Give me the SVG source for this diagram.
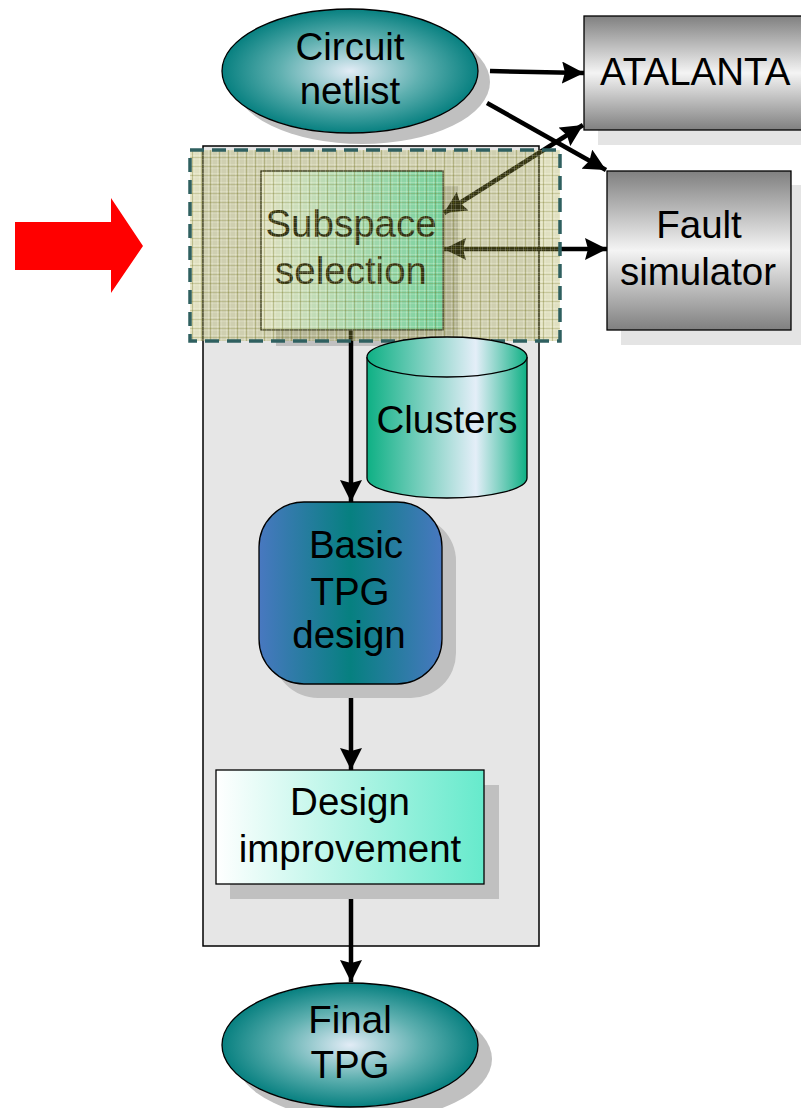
<svg xmlns="http://www.w3.org/2000/svg" width="801" height="1108" viewBox="0 0 801 1108">
  <defs>
    <radialGradient id="ovalFill" cx="0.5" cy="0.5" r="0.5">
      <stop offset="0" stop-color="#e2ecf6"/>
      <stop offset="0.55" stop-color="#5fb0b0"/>
      <stop offset="1" stop-color="#078080"/>
    </radialGradient>
    <linearGradient id="greyBox" x1="0" y1="0" x2="0" y2="1">
      <stop offset="0" stop-color="#808080"/>
      <stop offset="0.5" stop-color="#f4f4f4"/>
      <stop offset="1" stop-color="#808080"/>
    </linearGradient>
    <linearGradient id="cylFill" x1="0" y1="0" x2="1" y2="0">
      <stop offset="0" stop-color="#0eb084"/>
      <stop offset="0.68" stop-color="#e4eef8"/>
      <stop offset="1" stop-color="#0eb084"/>
    </linearGradient>
    <linearGradient id="tpgFill" x1="0" y1="0" x2="1" y2="0">
      <stop offset="0" stop-color="#4878c0"/>
      <stop offset="0.5" stop-color="#068080"/>
      <stop offset="1" stop-color="#4878c0"/>
    </linearGradient>
    <linearGradient id="aquaFill" x1="0" y1="0" x2="1" y2="0">
      <stop offset="0" stop-color="#ffffff"/>
      <stop offset="1" stop-color="#66eacc"/>
    </linearGradient>
    <!-- plaid hatching for the highlighted stage -->
    <pattern id="plaid" x="0" y="0" width="9" height="9" patternUnits="userSpaceOnUse">
      <rect width="9" height="9" fill="#a0a040" fill-opacity="0.32"/>
      <rect x="1" width="1" height="9" fill="#ffffe8" fill-opacity="0.22"/>
      <rect x="5" width="1" height="9" fill="#ffffe8" fill-opacity="0.15"/>
      <rect y="2" width="9" height="1" fill="#ffffe8" fill-opacity="0.22"/>
      <rect y="6" width="9" height="1" fill="#ffffe8" fill-opacity="0.15"/>
      <rect x="3" width="1" height="9" fill="#6c6c10" fill-opacity="0.3"/>
      <rect y="4" width="9" height="1" fill="#6c6c10" fill-opacity="0.22"/>
    </pattern>
    <marker id="head" viewBox="0 0 22 22" refX="22" refY="11" markerWidth="22" markerHeight="22" markerUnits="userSpaceOnUse" orient="auto-start-reverse">
      <path d="M0,0 L22,11 L0,22 L3,11 Z" fill="#000"/>
    </marker>
  </defs>
  <style>
    .label { font-family: "Liberation Sans", Arial, sans-serif; font-size: 38.5px; fill: #000; text-anchor: middle; }
    .edge { fill: none; stroke: #000; stroke-width: 4.5; }
    .shadow { fill: #c0c0c0; }
    .shadowLight { fill: #e4e4e4; }
    .outline { stroke: #000; stroke-width: 1.3; }
  </style>

  <!-- pointer arrow -->
  <polygon id="pointer" points="15,222 111,222 111,198 143,246 111,293 111,270 15,270" fill="#ff0000"/>

  <!-- process frame -->
  <rect id="frame" x="203" y="146" width="336" height="800" fill="#e6e6e6" stroke="#000" stroke-width="1.5"/>

  <!-- subspace selection -->
  <g id="subspace">
    <rect class="shadow" x="276" y="186" width="182" height="160"/>
    <rect x="261" y="171" width="182" height="159" fill="url(#aquaFill)" class="outline"/>
    <text class="label" x="351" y="237">Subspace</text>
    <text class="label" x="351" y="284">selection</text>
  </g>

  <!-- connectors -->
  <g id="connectors">
    <line class="edge" x1="490" y1="71" x2="584" y2="73" marker-end="url(#head)"/>
    <line class="edge" x1="487" y1="103" x2="606" y2="170" marker-end="url(#head)"/>
    <line class="edge" x1="444" y1="213" x2="583" y2="125" marker-start="url(#head)" marker-end="url(#head)"/>
    <line class="edge" x1="444" y1="249" x2="607" y2="249" marker-start="url(#head)" marker-end="url(#head)"/>
    <line class="edge" x1="351" y1="330" x2="351" y2="502" marker-end="url(#head)"/>
    <line class="edge" x1="351" y1="684" x2="351" y2="770" marker-end="url(#head)"/>
    <line class="edge" x1="351" y1="884" x2="351" y2="982" marker-end="url(#head)"/>
  </g>

  <!-- highlighted stage -->
  <rect id="highlight" x="190" y="150" width="370" height="191" fill="url(#plaid)" stroke="#2f6060" stroke-width="3.5" stroke-dasharray="14,8"/>

  <!-- circuit netlist -->
  <g id="netlist">
    <ellipse class="shadow" cx="362" cy="82" rx="128" ry="62"/>
    <ellipse cx="350" cy="71" rx="128" ry="62" fill="url(#ovalFill)" class="outline"/>
    <text class="label" x="350" y="60">Circuit</text>
    <text class="label" x="350" y="104">netlist</text>
  </g>

  <!-- ATALANTA -->
  <g id="atalanta">
    <rect class="shadowLight" x="598" y="30" width="210" height="115"/>
    <rect x="584" y="16" width="225" height="114" fill="url(#greyBox)" class="outline"/>
    <text class="label" x="600" y="85" style="text-anchor:start">ATALANTA</text>
  </g>

  <!-- fault simulator -->
  <g id="faultsim">
    <rect class="shadowLight" x="621" y="185" width="180" height="160"/>
    <rect x="607" y="171" width="184" height="159" fill="url(#greyBox)" class="outline"/>
    <text class="label" x="699" y="238">Fault</text>
    <text class="label" x="698" y="285">simulator</text>
  </g>

  <!-- clusters store -->
  <g id="clusters">
    <path d="M367,357 L367,478 A80,20 0 0 0 527,478 L527,357" fill="url(#cylFill)" class="outline"/>
    <ellipse cx="447" cy="357" rx="80" ry="20" fill="url(#cylFill)" class="outline"/>
    <text class="label" x="447" y="433">Clusters</text>
  </g>

  <!-- basic TPG design -->
  <g id="basictpg">
    <rect class="shadow" x="273" y="516" width="183" height="182" rx="45"/>
    <rect x="259" y="502" width="183" height="182" rx="45" fill="url(#tpgFill)" class="outline"/>
    <text class="label" x="356" y="558">Basic</text>
    <text class="label" x="350" y="605">TPG</text>
    <text class="label" x="349" y="648">design</text>
  </g>

  <!-- design improvement -->
  <g id="improvement">
    <rect class="shadow" x="230" y="785" width="269" height="114"/>
    <rect x="216" y="770" width="268" height="114" fill="url(#aquaFill)" class="outline"/>
    <text class="label" x="350" y="815">Design</text>
    <text class="label" x="350" y="862">improvement</text>
  </g>

  <!-- final TPG -->
  <g id="finaltpg">
    <ellipse class="shadow" cx="364" cy="1059" rx="128" ry="62"/>
    <ellipse cx="350" cy="1045" rx="128" ry="62" fill="url(#ovalFill)" class="outline"/>
    <text class="label" x="350" y="1033">Final</text>
    <text class="label" x="350" y="1078">TPG</text>
  </g>
</svg>
